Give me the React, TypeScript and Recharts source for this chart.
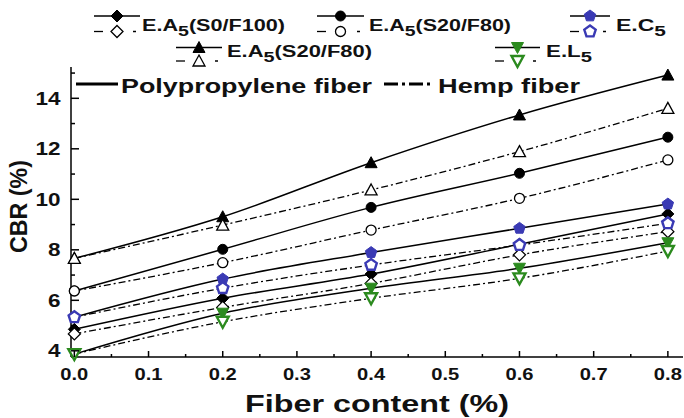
import React from 'react';
import { LineChart, Line, XAxis, YAxis } from 'recharts';

const FONT = '"Liberation Sans", Arial, Helvetica, sans-serif';
const BLUE = '#3a3ab4';
const GREEN = '#2b8a1e';

// fiber content (%) on the x axis
const fiberContent = [0, 0.2, 0.4, 0.6, 0.8];

// CBR (%) values, polypropylene (solid) and hemp (dash-dot)
const ppS0F100 = [4.85, 6.08, 7.04, 8.22, 9.42];
const hempS0F100 = [4.67, 5.72, 6.67, 7.8, 8.72];
const ppS20F80 = [6.37, 8.02, 9.68, 11.03, 12.46];
const hempS20F80 = [6.37, 7.49, 8.78, 10.04, 11.56];
const ppC5 = [5.33, 6.84, 7.89, 8.85, 9.81];
const hempC5 = [5.33, 6.48, 7.4, 8.19, 9.05];
const ppS20F80b = [7.66, 9.31, 11.45, 13.34, 14.92];
const hempS20F80b = [7.66, 8.98, 10.37, 11.89, 13.6];
const ppL5 = [3.87, 5.49, 6.48, 7.27, 8.28];
const hempL5 = [3.87, 5.15, 6.08, 6.87, 7.95];

const xMajorTicks = [0, 0.1, 0.2, 0.3, 0.4, 0.5, 0.6, 0.7, 0.8];
const xMinorTicks = [0.05, 0.15, 0.25, 0.35, 0.45, 0.55, 0.65, 0.75];
const yMajorTicks = [4, 6, 8, 10, 12, 14];
const yMinorTicks = [5, 7, 9, 11, 13, 15];

const xDomain = [-0.0045, 0.8204];
const yDomain = [3.755, 15.24];

type Shape = 'diamond' | 'circle' | 'pentagon' | 'triangle' | 'down';

const series: { key: string; values: number[]; shape: Shape; color: string; filled: boolean }[] = [
  { key: 'ppS0F100', values: ppS0F100, shape: 'diamond', color: '#000', filled: true },
  { key: 'hempS0F100', values: hempS0F100, shape: 'diamond', color: '#000', filled: false },
  { key: 'ppS20F80', values: ppS20F80, shape: 'circle', color: '#000', filled: true },
  { key: 'hempS20F80', values: hempS20F80, shape: 'circle', color: '#000', filled: false },
  { key: 'ppC5', values: ppC5, shape: 'pentagon', color: BLUE, filled: true },
  { key: 'hempC5', values: hempC5, shape: 'pentagon', color: BLUE, filled: false },
  { key: 'ppS20F80b', values: ppS20F80b, shape: 'triangle', color: '#000', filled: true },
  { key: 'hempS20F80b', values: hempS20F80b, shape: 'triangle', color: '#000', filled: false },
  { key: 'ppL5', values: ppL5, shape: 'down', color: GREEN, filled: true },
  { key: 'hempL5', values: hempL5, shape: 'down', color: GREEN, filled: false },
];

const rows = fiberContent.map((f, i) => {
  const row: Record<string, number> = { fiber: f };
  series.forEach((s) => (row[s.key] = s.values[i]));
  return row;
});

const DASH_DOT = '7 3 2 3';

function Marker({ shape, cx, cy, color, filled }: { shape: Shape; cx: number; cy: number; color: string; filled: boolean }) {
  const fill = filled ? color : '#fff';
  const sw = filled ? 1 : color === '#000' ? 1.3 : 2.4;
  if (shape === 'circle') return <circle cx={cx} cy={cy} r={5} fill={fill} stroke={color} strokeWidth={sw} />;
  let pts: number[][] = [];
  if (shape === 'diamond') pts = [[0, -6], [6, 0], [0, 6], [-6, 0]];
  if (shape === 'triangle') pts = [[0, -6], [6, 5], [-6, 5]];
  if (shape === 'down') pts = [[-6, -5], [6, -5], [0, 6]];
  if (shape === 'pentagon')
    pts = [0, 1, 2, 3, 4].map((k) => {
      const a = ((-90 + 72 * k) * Math.PI) / 180;
      return [6 * Math.cos(a), 6 * Math.sin(a)];
    });
  return (
    <polygon
      points={pts.map((p) => `${cx + p[0]},${cy + p[1]}`).join(' ')}
      fill={fill}
      stroke={color}
      strokeWidth={sw}
      strokeLinejoin="miter"
    />
  );
}

const XTick = (props: any) => {
  const { x, y, payload } = props;
  const v = payload.value as number;
  const major = xMajorTicks.some((t) => Math.abs(t - v) < 1e-6);
  return (
    <g>
      <line x1={x} x2={x} y1={y} y2={y - (major ? 6 : 3)} stroke="#000" strokeWidth={1.5} />
      {major && (
        <text
          x={x}
          y={y + 23}
          textAnchor="middle"
          fontFamily={FONT}
          fontWeight={700}
          fontSize={17}
          textLength={28}
          lengthAdjust="spacingAndGlyphs"
          fill="#111"
        >
          {v.toFixed(1)}
        </text>
      )}
    </g>
  );
};

const YTick = (props: any) => {
  const { x, y, payload } = props;
  const v = payload.value as number;
  const major = yMajorTicks.includes(v);
  const label = String(v);
  return (
    <g>
      <line x1={x} x2={x + (major ? 8 : 4)} y1={y} y2={y} stroke="#000" strokeWidth={1.5} />
      {major && (
        <text
          x={x - 10.5}
          y={y + 6.5}
          textAnchor="end"
          fontFamily={FONT}
          fontWeight={700}
          fontSize={17.5}
          textLength={label.length * 12.5}
          lengthAdjust="spacingAndGlyphs"
          fill="#111"
        >
          {label}
        </text>
      )}
    </g>
  );
};

const legendItems: {
  name: string;
  sub: string;
  rest: string;
  shape: Shape;
  color: string;
  x0: number;
  x1: number;
  tx: number;
  tw: number;
  top: number;
  bottom: number;
  base: number;
}[] = [
  { name: 'E.A', sub: '5', rest: '(S0/F100)', shape: 'diamond', color: '#000', x0: 94, x1: 140, tx: 142, tw: 143, top: 16, bottom: 31.5, base: 31 },
  { name: 'E.A', sub: '5', rest: '(S20/F80)', shape: 'circle', color: '#000', x0: 317, x1: 364, tx: 369, tw: 142, top: 16, bottom: 31.5, base: 31 },
  { name: 'E.C', sub: '5', rest: '', shape: 'pentagon', color: BLUE, x0: 570, x1: 610, tx: 616, tw: 50, top: 16, bottom: 31.5, base: 31 },
  { name: 'E.A', sub: '5', rest: '(S20/F80)', shape: 'triangle', color: '#000', x0: 176, x1: 222, tx: 227, tw: 145, top: 47.5, bottom: 61, base: 57 },
  { name: 'E.L', sub: '5', rest: '', shape: 'down', color: GREEN, x0: 495, x1: 540, tx: 546, tw: 46, top: 47.5, bottom: 61, base: 57 },
];

function LegendIcon({ it }: { it: (typeof legendItems)[number] }) {
  const mid = (it.x0 + it.x1) / 2;
  return (
    <g>
      <line x1={it.x0} x2={it.x1} y1={it.top} y2={it.top} stroke="#000" strokeWidth={1.5} />
      <Marker shape={it.shape} cx={mid} cy={it.top} color={it.color} filled />
      <line x1={it.x0} x2={it.x0 + 9} y1={it.bottom} y2={it.bottom} stroke="#000" strokeWidth={1.3} />
      <line x1={it.x1 - 7} x2={it.x1 - 4} y1={it.bottom} y2={it.bottom} stroke="#000" strokeWidth={1.5} />
      <Marker shape={it.shape} cx={mid} cy={it.bottom} color={it.color} filled={false} />
    </g>
  );
}

function Overlay() {
  return (
    <svg width={684} height={418} style={{ position: 'absolute', left: 0, top: 0, pointerEvents: 'none' }}>
      {legendItems.map((it, i) => (
        <g key={i}>
          <LegendIcon it={it} />
          <text
            x={it.tx}
            y={it.base}
            fontFamily={FONT}
            fontWeight={700}
            fontSize={16}
            textLength={it.tw}
            lengthAdjust="spacingAndGlyphs"
            fill="#111"
          >
            {it.name}
            <tspan dy={5} fontSize={14.5}>
              {it.sub}
            </tspan>
            {it.rest && <tspan dy={-5}>{it.rest}</tspan>}
          </text>
        </g>
      ))}
      <line x1={76} x2={118} y1={84} y2={84} stroke="#000" strokeWidth={3} />
      <text x={121} y={93} fontFamily={FONT} fontWeight={700} fontSize={20} textLength={251} lengthAdjust="spacingAndGlyphs" fill="#111">
        Polypropylene fiber
      </text>
      <line x1={384} x2={431} y1={84} y2={84} stroke="#000" strokeWidth={3} strokeDasharray="14 4 3 4" />
      <text x={438} y={93} fontFamily={FONT} fontWeight={700} fontSize={20} textLength={142} lengthAdjust="spacingAndGlyphs" fill="#111">
        Hemp fiber
      </text>
    </svg>
  );
}

export default function App() {
  return (
    <div style={{ position: 'absolute', left: 0, top: 0, width: 684, height: 418, background: '#fff' }}>
      <LineChart width={684} height={418} data={rows} margin={{ top: 67, right: 1, bottom: 0, left: 0 }}>
        <XAxis
          dataKey="fiber"
          type="number"
          domain={xDomain}
          ticks={[...xMajorTicks, ...xMinorTicks].sort((a, b) => a - b)}
          interval={0}
          height={61}
          tickSize={0}
          tickMargin={0}
          tickLine={false}
          tick={<XTick />}
          axisLine={{ stroke: '#000', strokeWidth: 1.5 }}
          label={(p: any) => {
            const vb = p.viewBox;
            return (
              <text
                x={vb.x + vb.width / 2}
                y={vb.y + 55}
                textAnchor="middle"
                fontFamily={FONT}
                fontWeight={700}
                fontSize={24}
                textLength={264}
                lengthAdjust="spacingAndGlyphs"
                fill="#111"
              >
                Fiber content (%)
              </text>
            );
          }}
        />
        <XAxis
          xAxisId="top"
          orientation="top"
          dataKey="fiber"
          type="number"
          domain={xDomain}
          height={0}
          tick={false}
          tickLine={false}
          axisLine={{ stroke: '#9a9a9a', strokeWidth: 1.2 }}
        />
        <YAxis
          type="number"
          domain={yDomain}
          ticks={[...yMajorTicks, ...yMinorTicks].sort((a, b) => a - b)}
          interval={0}
          width={71}
          tickSize={0}
          tickMargin={0}
          tickLine={false}
          tick={<YTick />}
          axisLine={{ stroke: '#000', strokeWidth: 1.5 }}
          label={(p: any) => {
            const vb = p.viewBox;
            const cx = 27;
            const cy = vb.y + vb.height / 2 - 5.5;
            return (
              <text
                x={cx}
                y={cy}
                transform={`rotate(-90 ${cx} ${cy})`}
                textAnchor="middle"
                fontFamily={FONT}
                fontWeight={700}
                fontSize={23}
                textLength={93}
                lengthAdjust="spacingAndGlyphs"
                fill="#111"
              >
                CBR (%)
              </text>
            );
          }}
        />
        {series.map((s) => (
          <Line
            key={s.key}
            dataKey={s.key}
            type="monotone"
            stroke="#000"
            strokeWidth={s.filled ? 1.5 : 1.3}
            strokeDasharray={s.filled ? undefined : DASH_DOT}
            isAnimationActive={false}
            activeDot={false}
            dot={(p: any) => (
              <Marker key={`${s.key}-${p.index}`} shape={s.shape} cx={p.cx} cy={p.cy} color={s.color} filled={s.filled} />
            )}
          />
        ))}
      </LineChart>
      <Overlay />
    </div>
  );
}
